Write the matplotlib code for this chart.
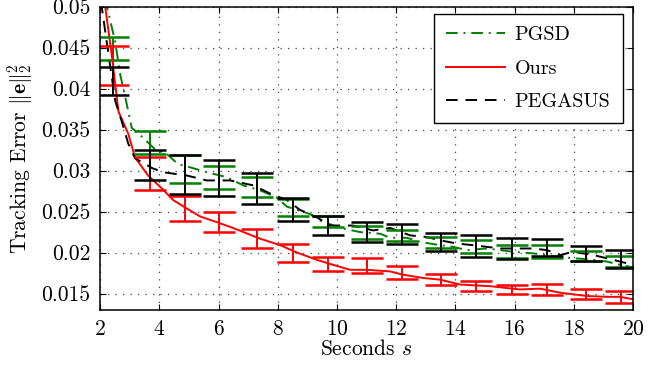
import matplotlib.pyplot as plt
from matplotlib.ticker import FormatStrFormatter

plt.rcParams['font.family'] = 'cmr10'
plt.rcParams['mathtext.fontset'] = 'cm'
plt.rcParams['axes.formatter.use_mathtext'] = True

# curves
t_ours = [2.15, 2.40, 2.62, 2.95, 3.18, 3.62, 4.09, 4.47, 4.87, 5.38, 5.95, 6.49, 7.40, 8.08,
          8.65, 9.33, 9.87, 10.44, 11.0, 11.79, 12.23, 12.91, 13.48, 14.16, 15.17, 16.18,
          16.86, 17.54, 18.45, 19.12, 19.56, 20.0]
ours = [0.0506, 0.0439, 0.0372, 0.0345, 0.0316, 0.0294, 0.0278, 0.0264, 0.0255, 0.0244,
        0.0237, 0.0230, 0.0217, 0.0209, 0.0200, 0.0191, 0.0185, 0.0179, 0.0179, 0.0177,
        0.0173, 0.0169, 0.0167, 0.0161, 0.0159, 0.0155, 0.0156, 0.0151, 0.0147, 0.0146,
        0.0146, 0.0143]

t_peg = [2.03, 2.27, 2.51, 2.73, 2.95, 3.18, 3.76, 4.13, 4.93, 5.60, 6.39, 7.17, 7.74, 8.31,
         8.75, 9.32, 9.77, 10.21, 10.54, 11.22, 11.79, 12.47, 13.03, 13.48, 14.05, 14.60,
         15.51, 16.62, 17.09, 17.54, 17.97, 18.65, 19.12, 19.56, 20.0]
pegasus = [0.0506, 0.0445, 0.0385, 0.0360, 0.0333, 0.0315, 0.0303, 0.0298, 0.0294, 0.0288,
           0.0288, 0.0282, 0.0272, 0.0264, 0.0252, 0.0243, 0.0233, 0.0233, 0.0233, 0.0227,
           0.0230, 0.0221, 0.0219, 0.0215, 0.0211, 0.0209, 0.0205, 0.0205, 0.0203, 0.0197,
           0.0201, 0.0197, 0.0193, 0.0189, 0.0185]

t_pgsd = [2.10, 2.27, 2.51, 2.68, 2.90, 3.07, 3.28, 3.45, 3.91, 4.20, 4.63, 5.04, 5.60, 6.28,
          6.83, 7.40, 7.97, 8.31, 9.09, 9.43, 10.11, 10.78, 11.46, 11.79, 12.36, 12.81,
          13.48, 13.92, 14.38, 15.06, 15.95, 16.62, 17.30, 17.97, 18.45, 19.12, 19.56, 20.0]
pgsd = [0.0515, 0.0494, 0.0457, 0.0417, 0.0381, 0.0352, 0.0346, 0.0340, 0.0324, 0.0322,
        0.0308, 0.0304, 0.0298, 0.0292, 0.0282, 0.0276, 0.0267, 0.0256, 0.0247, 0.0239,
        0.0230, 0.0225, 0.0223, 0.0218, 0.0218, 0.0213, 0.0209, 0.0207, 0.0203, 0.0205,
        0.0201, 0.0199, 0.0196, 0.0193, 0.0192, 0.0189, 0.0185, 0.0182]

# error bars
t_err = [2.44, 3.69, 4.87, 6.0, 7.3, 8.5, 9.7, 11.0, 12.2, 13.5, 14.7, 15.9, 17.1, 18.4, 19.6]
pgsd_mean = [0.0449, 0.0334, 0.0302, 0.0292, 0.0280, 0.0255, 0.0238, 0.0224, 0.0221, 0.0212,
             0.0207, 0.0201, 0.0201, 0.0196, 0.0189]
pgsd_err = [0.0014, 0.0014, 0.0017, 0.0014, 0.0012, 0.0010, 0.0007, 0.0008, 0.0007, 0.0007,
            0.0008, 0.0008, 0.0008, 0.0006, 0.0007]
ours_mean = [0.0428, 0.0296, 0.0254, 0.0237, 0.0217, 0.0199, 0.0186, 0.0184, 0.0176, 0.0167,
             0.0159, 0.0155, 0.0155, 0.0149, 0.0146]
ours_err = [0.0024, 0.0020, 0.0015, 0.0012, 0.0012, 0.0011, 0.0008, 0.0009, 0.0008, 0.0007,
            0.0006, 0.0006, 0.0007, 0.0006, 0.0007]
peg_mean = [0.0409, 0.0307, 0.0295, 0.0291, 0.0278, 0.0253, 0.0233, 0.0225, 0.0223, 0.0213,
            0.0208, 0.0205, 0.0206, 0.0199, 0.0192]
peg_err = [0.0017, 0.0018, 0.0024, 0.0022, 0.0019, 0.0014, 0.0012, 0.0012, 0.0012, 0.0011,
           0.0013, 0.0013, 0.0010, 0.0009, 0.0011]

green = '#008000'

fig = plt.figure(figsize=(6.63, 3.69), dpi=100)
ax = fig.add_axes([0.151, 0.160, 0.804, 0.822])

ax.plot(t_pgsd, pgsd, color=green, ls='-.', lw=1.4, dashes=(6, 3, 1, 3), label='PGSD')
ax.plot(t_ours, ours, color='red', ls='-', lw=1.4, label='Ours')
ax.plot(t_peg, pegasus, color='black', ls='--', lw=1.4, dashes=(6, 4), label='PEGASUS')

for m, e, c in [(pgsd_mean, pgsd_err, green), (ours_mean, ours_err, 'red'),
                (peg_mean, peg_err, 'black')]:
    ax.errorbar(t_err, m, yerr=e, fmt='none', ecolor=c, elinewidth=1.4,
                capsize=11.5, capthick=1.8)

ax.set_xlim(2, 20)
ax.set_ylim(0.013, 0.05)
ax.set_xticks(range(2, 21, 2))
ax.set_yticks([0.015, 0.02, 0.025, 0.03, 0.035, 0.04, 0.045, 0.05])
ax.yaxis.set_major_formatter(FormatStrFormatter('%g'))
ax.tick_params(direction='in', top=True, right=True, labelsize=15.5, length=4, pad=7)
ax.grid(True, ls=(0, (1, 5)), color='#444444', lw=0.9)
for s in ax.spines.values():
    s.set_linewidth(1.1)

ax.set_xlabel('Seconds $s$', fontsize=15.5, labelpad=0)
ax.set_ylabel(r'Tracking Error $\|\mathbf{e}\|_2^2$', fontsize=15.5, labelpad=4)

leg = ax.legend(loc='upper right', fontsize=14.5, fancybox=False, framealpha=1,
                edgecolor='black', labelspacing=0.75, handlelength=2.9,
                handletextpad=0.5, borderpad=0.6, borderaxespad=0,
                bbox_to_anchor=(0.98, 0.975))
leg.get_frame().set_linewidth(1.0)

fig.savefig('out.png', dpi=100)
